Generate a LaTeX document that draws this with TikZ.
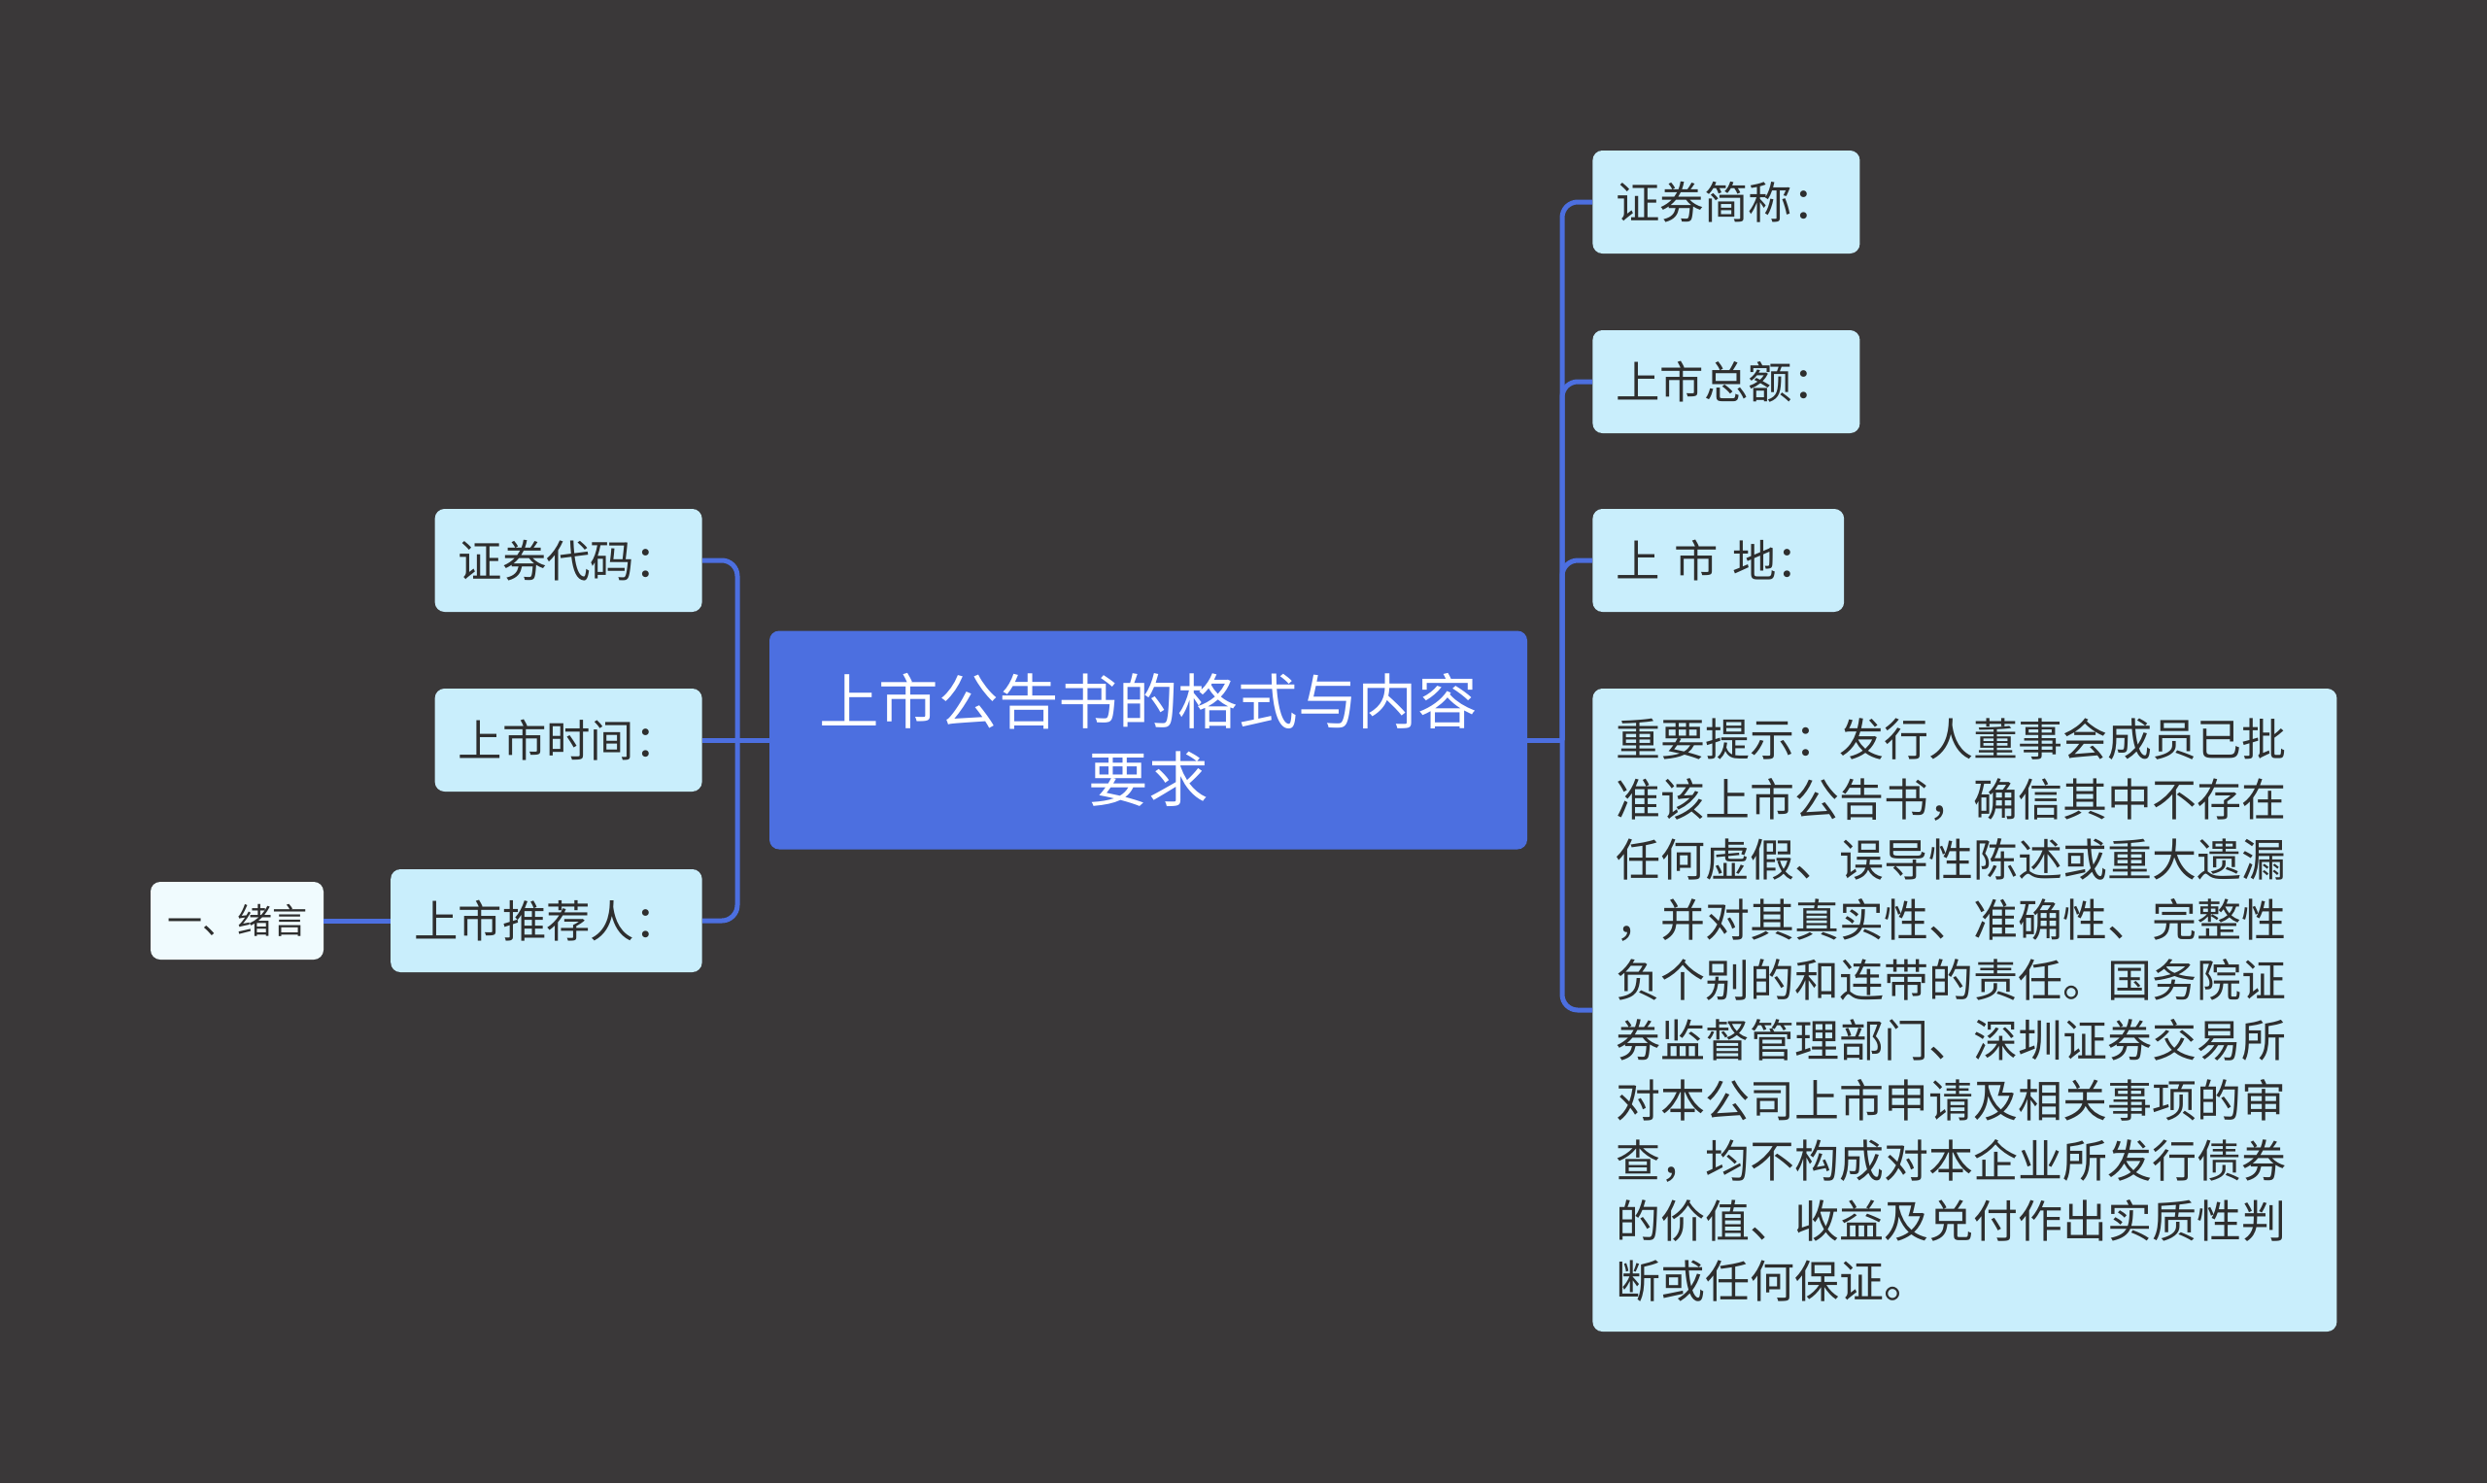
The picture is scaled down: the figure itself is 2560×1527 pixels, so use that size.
\documentclass[tikz,border=0pt]{standalone}
\usepackage{fontspec}
\setmainfont{Noto Sans CJK SC}
\usetikzlibrary{calc}
\definecolor{canvas}{HTML}{3A3839}
\definecolor{rootblue}{HTML}{4C6FE0}
\definecolor{leafcyan}{HTML}{C9EEFC}
\definecolor{notewhite}{HTML}{F0FBFE}
\definecolor{inkgray}{HTML}{2E2E2E}
\tikzset{
  topic/.style={
    fill = rootblue,
    text = white,
    rounded corners = 5pt,
    minimum width = 390pt,
    minimum height = 112.5pt,
    align = center,
    font = \fontsize{30.8}{40}\selectfont
  },
  subtopic/.style={
    fill = leafcyan,
    text = inkgray,
    rounded corners = 5pt,
    inner xsep = 12pt,
    minimum height = 53pt,
    font = \fontsize{22.7}{31}\selectfont
  },
  notebox/.style={
    subtopic,
    font = \fontsize{23}{31}\selectfont,
    text width = 359pt,
    align = left,
    minimum height = 331pt
  },
  tag/.style={
    fill = notewhite,
    text = inkgray,
    rounded corners = 5pt,
    inner xsep = 8pt,
    minimum width = 89pt,
    minimum height = 40pt,
    font = \fontsize{18}{22}\selectfont
  },
  link/.style={
    draw = rootblue,
    line width = 2.5pt,
    rounded corners = 8pt
  }
}

\begin{document}
\begin{tikzpicture}[x=0.5pt,y=-0.5pt]
    \fill[canvas] (0,0) rectangle (2560,1527);
    \useasboundingbox (0,0) rectangle (2560,1527);
    % centre topic
    \node[topic] (root) at (1182,762) {上市公告书的格式与内容\\要求};
    % left branch
    \node[subtopic, anchor=east] (code) at (723,577) {证券代码：};
    \node[subtopic, anchor=east] (time) at (723,762) {上市时间：};
    \node[subtopic, anchor=east] (sponsor) at (723,948) {上市推荐人：};
    \node[tag] (intro) at (244,948) {一、绪言};
    % right branch
    \node[subtopic, anchor=west] (abbr) at (1639,208) {证券简称：};
    \node[subtopic, anchor=west] (total) at (1639,393) {上市总额：};
    \node[subtopic, anchor=west] (place) at (1639,577) {上\ \hspace{2.2pt}市\ \hspace{2.2pt}地：};
    \node[notebox, anchor=west] (notice) at (1639,1040) {重要提示：发行人董事会成员已批\\
        准该上市公告书，确信其中不存在\\
        任何虚假、误导性陈述或重大遗漏\\
        ，并对其真实性、准确性、完整性\\
        负个别的和连带的责任。国务院证\\
        券监督管理部门、深圳证券交易所\\
        对本公司上市申请及相关事项的审\\
        查，均不构成对本企业所发行债券\\
        的价值、收益及兑付作出实质性判\\
        断或任何保证。};
    \coordinate (lhub) at (759,762);
    \coordinate (rhub) at (1608,762);
    \draw[link] (time.east) -- (root.west);
    \foreach \n in {code,sponsor}{
            \draw[link] (lhub) |- (\n.east);
        }
    \draw[link] (root.east) -- (rhub);
    \foreach \n in {abbr,total,place,notice}{
            \draw[link] (rhub) |- (\n.west);
        }
    \draw[link] (intro) -- (sponsor);
\end{tikzpicture}
\end{document}
